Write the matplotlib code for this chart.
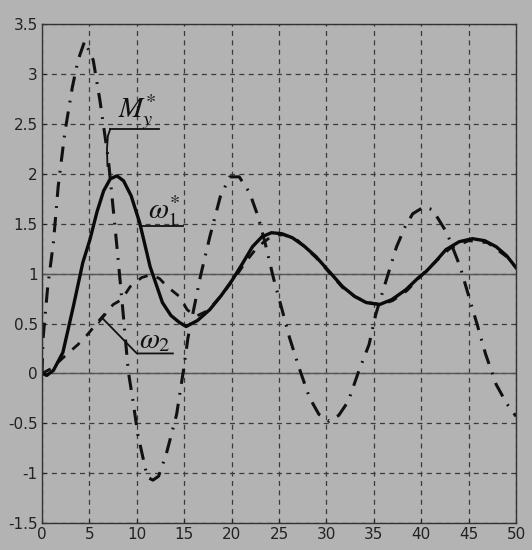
import numpy as np
import matplotlib.pyplot as plt

plt.rcParams['mathtext.fontset'] = 'stix'

# omega_1* (solid)
t_w1 = [0, 0.5, 1.2, 2.2, 3.3, 4.3, 5.05, 5.8, 6.5, 7.2, 7.9, 8.6, 9.4, 10.3, 11.4,
        12.7, 13.6, 14.5, 15.2, 16.4, 17.7, 18.9, 20.1, 21.2, 22.2, 23.2, 24.2, 25.3,
        26.4, 27.6, 28.9, 30.3, 31.7, 33.0, 34.2, 35.6, 36.9, 38.4, 39.6, 40.5, 41.5,
        42.6, 44.0, 45.4, 46.7, 47.9, 49.0, 50]
w1 = [0, -0.02, 0.03, 0.21, 0.67, 1.11, 1.34, 1.62, 1.83, 1.95, 1.98, 1.93, 1.78, 1.51,
      1.07, 0.71, 0.58, 0.51, 0.47, 0.53, 0.64, 0.78, 0.94, 1.11, 1.27, 1.37, 1.41, 1.40,
      1.36, 1.28, 1.17, 1.02, 0.87, 0.77, 0.71, 0.69, 0.74, 0.84, 0.95, 1.02, 1.12,
      1.24, 1.32, 1.35, 1.33, 1.27, 1.18, 1.06]

# M_y* (dash-dot)
t_m = [0, 0.1, 0.6, 1.2, 1.7, 2.4, 3.2, 3.8, 4.5, 5.4, 6.1, 7.0, 7.9, 8.5, 9.1, 9.6,
       10.1, 11.1, 11.7, 12.3, 13.1, 14.2, 14.9, 15.4, 16.7, 17.7, 18.8, 19.8, 20.8,
       21.9, 22.8, 23.6, 24.4, 25.4, 26.1, 27.1, 28.2, 29.2, 30.3, 31.3, 32.3, 33.4,
       34.5, 35.2, 36.0, 37.4, 38.3, 39.1, 40.3, 41.2, 42.7, 44.1, 44.9, 45.9, 46.8,
       47.9, 49.0, 50]
m_y = [0, 0.34, 0.87, 1.31, 1.87, 2.41, 2.87, 3.14, 3.33, 3.14, 2.74, 2.14, 1.27, 0.66,
       0.02, -0.28, -0.61, -1.04, -1.07, -1.03, -0.81, -0.41, 0.02, 0.36, 0.97, 1.37,
       1.77, 1.97, 1.97, 1.81, 1.57, 1.28, 0.96, 0.61, 0.36, 0.06, -0.24, -0.41, -0.48,
       -0.42, -0.28, 0.02, 0.29, 0.59, 0.84, 1.27, 1.47, 1.60, 1.67, 1.64, 1.41, 1.07,
       0.81, 0.49, 0.19, -0.11, -0.30, -0.43]

# omega_2 (dashed)
t_w2 = [0, 1.0, 2.6, 3.8, 4.8, 6.2, 7.5, 8.4, 9.3, 10.5, 11.5, 12.4, 13.2, 14.5, 15.3,
        16.2, 17.5, 19.0, 20.5, 21.5, 22.5, 23.3, 24.3, 25.5, 27.0, 28.9, 30.3, 31.7,
        33.0, 34.4, 35.8, 37.0, 38.5, 40.0, 41.5, 43.0, 45.0, 47.0, 49.0, 50]
w2 = [0, 0.05, 0.19, 0.29, 0.39, 0.55, 0.69, 0.74, 0.87, 0.96, 0.99, 0.95, 0.87, 0.77,
      0.64, 0.57, 0.63, 0.79, 0.98, 1.12, 1.24, 1.31, 1.38, 1.39, 1.33, 1.16, 1.01, 0.86,
      0.77, 0.71, 0.69, 0.73, 0.83, 0.98, 1.12, 1.25, 1.33, 1.31, 1.17, 1.06]

xticks = list(range(0, 51, 5))
yticks = [-1.5, -1, -0.5, 0, 0.5, 1, 1.5, 2, 2.5, 3, 3.5]
ytick_labels = ['-1.5', '-1', '-0.5', '0', '0.5', '1', '1.5', '2', '2.5', '3', '3.5']

bg = '#b3b3b3'
fig = plt.figure(figsize=(5.32, 5.5), dpi=100, facecolor=bg)
ax = fig.add_axes([0.079, 0.049, 0.891, 0.907], facecolor=bg)

ax.grid(True, color='#3a3a3a', linestyle=(0, (4, 3.5)), linewidth=0.9)
ax.axhline(0, color='#555555', lw=1.0)
ax.axhline(1, color='#555555', lw=1.0)

ax.plot(t_w2, w2, color='#111111', lw=2.0, linestyle=(0, (3.5, 3.5)))
ax.plot(t_m, m_y, color='#111111', lw=2.2, linestyle=(0, (5, 3, 0.6, 3)))
ax.plot(t_w1, w1, color='#0a0a0a', lw=2.4)

# labels with leader lines
ax.text(10.1, 2.62, r'$M_y^{*}$', fontsize=21, ha='center', va='center', color='#111111')
ax.plot([12.3, 7.2], [2.45, 2.45], color='#111111', lw=1.3)
ax.plot([7.2, 6.95, 6.85, 6.9], [2.45, 2.38, 2.25, 2.08], color='#111111', lw=1.3)

ax.text(12.9, 1.63, r'$\omega_1^{*}$', fontsize=21, ha='center', va='center', color='#111111')
ax.plot([10.55, 14.9], [1.48, 1.48], color='#111111', lw=1.3)

ax.text(11.9, 0.33, r'$\omega_2$', fontsize=21, ha='center', va='center', color='#111111')
ax.plot([13.8, 10.0, 6.3], [0.2, 0.2, 0.56], color='#111111', lw=1.3)
ax.plot([6.0, 6.7], [0.51, 0.59], color='#111111', lw=1.3)

ax.set_xlim(0, 50)
ax.set_ylim(-1.5, 3.5)
ax.set_xticks(xticks)
ax.set_yticks(yticks)
ax.set_yticklabels(ytick_labels)
ax.tick_params(direction='in', length=3, labelsize=11, colors='#222222', pad=3)
for s in ax.spines.values():
    s.set_color('#333333')
    s.set_linewidth(1.0)

fig.savefig('out.png', dpi=100, facecolor=bg)
